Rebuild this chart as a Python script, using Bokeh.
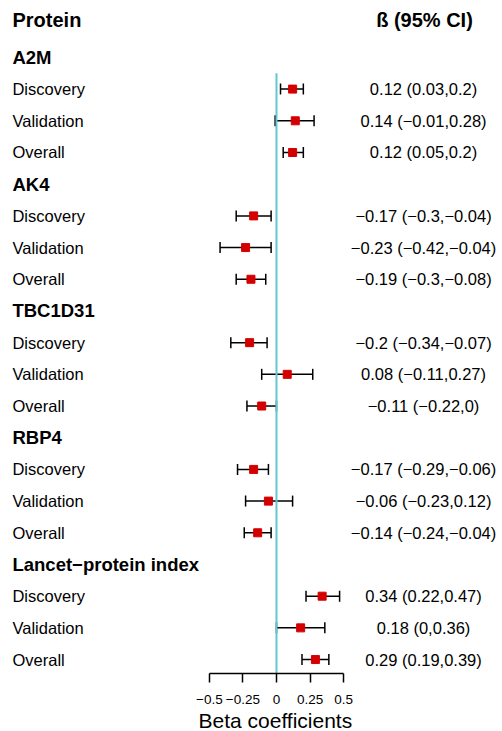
from bokeh.plotting import figure
from bokeh.models import Range1d, LinearAxis, FixedTicker, ColumnDataSource, Whisker, TeeHead, Title
from bokeh.embed import file_html
from bokeh.resources import INLINE
from bokeh.core.properties import value

proteins = ["A2M", "AK4", "TBC1D31", "RBP4", "Lancet−protein index"]
cohorts = ["Discovery", "Validation", "Overall"]
beta = [0.12, 0.14, 0.12, -0.17, -0.23, -0.19, -0.2, 0.08, -0.11, -0.17, -0.06, -0.14, 0.34, 0.18, 0.29]
lower = [0.03, -0.01, 0.05, -0.3, -0.42, -0.3, -0.34, -0.11, -0.22, -0.29, -0.23, -0.24, 0.22, 0, 0.19]
upper = [0.2, 0.28, 0.2, -0.04, -0.04, -0.08, -0.07, 0.27, 0, -0.06, 0.12, -0.04, 0.47, 0.36, 0.39]
tick_values = [-0.5, -0.25, 0, 0.25, 0.5]
tick_labels = ["−0.5", "−0.25", "0", "0.25", "0.5"]
x_title = "Beta coefficients"

FONT = "Liberation Sans"
W, H = 502, 731
BOTTOM = 55
Y_BOTTOM = 20.44

def fmt(v):
    return str(v).replace("-", "−")

# rows: protein header at 4k+1, cohorts at 4k+2..4k+4
head_y, head_txt = [], []
row_y, row_txt, ci_txt = [], [], []
for k, prot in enumerate(proteins):
    head_y.append(4 * k + 1)
    head_txt.append(prot)
    for j, c in enumerate(cohorts):
        i = 3 * k + j
        row_y.append(4 * k + 2 + j)
        row_txt.append(c)
        ci_txt.append(f"{fmt(beta[i])} ({fmt(lower[i])},{fmt(upper[i])})")

src = ColumnDataSource(dict(y=row_y, beta=beta, lower=lower, upper=upper, lab=row_txt, ci=ci_txt))
hsrc = ColumnDataSource(dict(y=head_y, lab=head_txt))

p = figure(width=W, height=H, output_backend="svg", toolbar_location=None,
           x_range=Range1d(-2.055, 1.683), y_range=Range1d(Y_BOTTOM, -0.796),
           x_axis_location=None, y_axis_location=None, min_border=0,
           min_border_bottom=BOTTOM, outline_line_color=None)
p.grid.visible = False
p.background_fill_color = "white"

ax = LinearAxis(ticker=FixedTicker(ticks=tick_values), bounds=(-0.5, 0.5))
ax.major_label_overrides = {v: t for v, t in zip(tick_values, tick_labels)}
ax.major_tick_in = 0
ax.major_tick_out = 9
ax.minor_tick_line_color = None
ax.axis_line_width = 1.5
ax.major_tick_line_width = 1.5
ax.axis_line_color = "black"
ax.major_tick_line_color = "black"
ax.major_label_text_font = FONT
ax.major_label_text_font_size = "13.5px"
ax.major_label_text_color = "black"
ax.major_label_standoff = 12
ax.major_label_text_line_height = 0.8
p.add_layout(ax, "below")

p.add_layout(Title(text=x_title, align="left", offset=198, standoff=0,
                   text_font=FONT, text_font_size="21px", text_font_style="normal",
                   text_color="black", vertical_align="bottom", text_line_height=0.7), "below")

# reference line at zero
p.segment(x0=[0], y0=[1.5], x1=[0], y1=[Y_BOTTOM], line_color="#62c6d3", line_width=2)

# error bars
wh = Whisker(source=src, base="y", lower="lower", upper="upper", dimension="width",
             line_color="black", line_width=1.5,
             lower_head=TeeHead(size=11, line_color="black", line_width=1.5),
             upper_head=TeeHead(size=11, line_color="black", line_width=1.5))
p.add_layout(wh)
p.scatter(x="beta", y="y", source=src, marker="square", size=8, fill_color="#d40000", line_color="#d40000")

LX = -1.966
CX = 1.095
p.text(x=LX, y="y", text="lab", source=src, text_font=value(FONT), text_font_size="16.5px",
       text_baseline="middle", text_align="left", text_color="black")
p.text(x=CX, y="y", text="ci", source=src, text_font=value(FONT), text_font_size="16.5px",
       text_baseline="middle", text_align="center", text_color="black")
p.text(x=LX, y="y", text="lab", source=hsrc, text_font=value(FONT), text_font_size="18.5px",
       text_font_style="bold", text_baseline="middle", text_align="left", text_color="black")

p.text(x=[LX], y=[-0.166], text=["Protein"], text_font=value(FONT), text_font_size="20px",
       text_font_style="bold", text_baseline="middle", text_align="left", text_color="black")
p.text(x=[1.102], y=[-0.166], text=["ß (95% CI)"], text_font=value(FONT), text_font_size="20px",
       text_font_style="bold", text_baseline="middle", text_align="center", text_color="black")

open("out.html", "w").write(file_html(p, INLINE))
